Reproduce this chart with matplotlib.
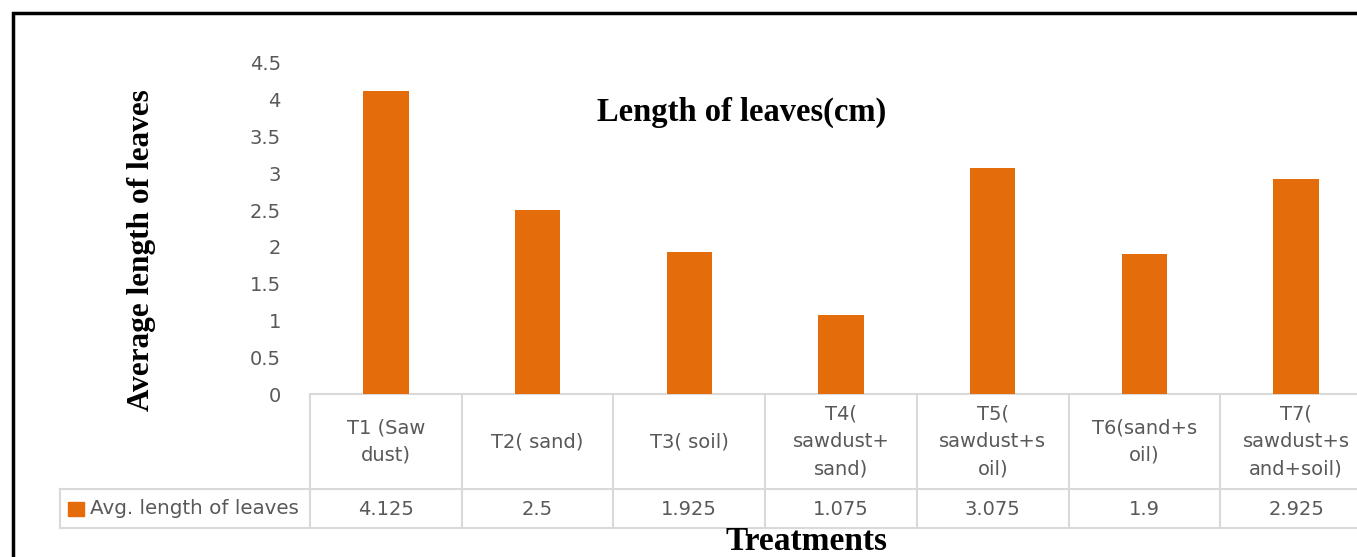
import matplotlib.pyplot as plt
from matplotlib.patches import Rectangle
from matplotlib.lines import Line2D

# data
treatments = ["T1 (Saw\ndust)", "T2( sand)", "T3( soil)", "T4(\nsawdust+\nsand)",
              "T5(\nsawdust+s\noil)", "T6(sand+s\noil)", "T7(\nsawdust+s\nand+soil)"]
avg_length = [4.125, 2.5, 1.925, 1.075, 3.075, 1.9, 2.925]
value_labels = ["4.125", "2.5", "1.925", "1.075", "3.075", "1.9", "2.925"]
series_name = "Avg. length of leaves"
yticks = [0, 0.5, 1, 1.5, 2, 2.5, 3, 3.5, 4, 4.5]

W, H = 1357, 557
bar_color = "#E46C0A"
text_gray = "#595959"
grid_gray = "#D9D9D9"

fig = plt.figure(figsize=(W / 100, H / 100), dpi=100)

# helper: pixel -> figure fraction
def fx(px):
    return px / W

def fy(py):
    return 1 - py / H

# plot area (extends past the right edge like the cropped original)
left, right, top, bottom = 310, 1372, 63, 394
ax = fig.add_axes([fx(left), fy(bottom), fx(right - left), (bottom - top) / H])
n = len(treatments)
ax.bar(range(n), avg_length, width=0.3, color=bar_color, zorder=3)
ax.set_xlim(-0.5, n - 0.5)
ax.set_ylim(0, 4.5)
ax.set_yticks(yticks)
ax.set_yticklabels([("%g" % t) for t in yticks])
ax.tick_params(axis="y", length=0, pad=21, labelsize=14, labelcolor=text_gray)
ax.set_xticks([])
for s in ax.spines.values():
    s.set_visible(False)

# data table below the axis
ax_w = right - left
ax_h = bottom - top
def ay(py):
    return (bottom - py) / ax_h

tr = ax.get_xaxis_transform()
row1, row2 = 489, 528
label_left = (60 - left) / ax_w
for y in [bottom, row1, row2]:
    x0 = -0.5 if y == bottom else -0.5 + label_left * n
    ax.add_line(Line2D([x0, n + 1], [ay(y), ay(y)], transform=tr, color=grid_gray,
                       lw=1.5, clip_on=False, zorder=2))
for i in range(n + 1):
    ax.add_line(Line2D([i - 0.5, i - 0.5], [ay(bottom), ay(row2)], transform=tr,
                       color=grid_gray, lw=1.5, clip_on=False))
ax.add_line(Line2D([-0.5 + label_left * n] * 2, [ay(row1), ay(row2)], transform=tr,
                   color=grid_gray, lw=1.5, clip_on=False))

for i, (lab, val) in enumerate(zip(treatments, value_labels)):
    ax.text(i, ay((bottom + row1) / 2), lab, transform=tr, ha="center", va="center",
            fontsize=14, color=text_gray, linespacing=1.55, clip_on=False)
    ax.text(i, ay((row1 + row2) / 2 + 1), val, transform=tr, ha="center", va="center",
            fontsize=14, color=text_gray, clip_on=False)

# legend key in the row header
fig.patches.append(Rectangle((fx(68), fy(516)), fx(16), 14 / H, transform=fig.transFigure,
                             color=bar_color))
fig.text(fx(90), fy(509), series_name, ha="left", va="center", fontsize=14.3,
         color=text_gray)

# titles
fig.text(fx(742), fy(112), "Length of leaves(cm)", ha="center", va="center",
         fontsize=23.5, fontweight="bold", family="Liberation Serif")
fig.text(fx(141), fy(250), "Average length of leaves", ha="center", va="center",
         rotation=90, fontsize=22.5, fontweight="bold", family="Liberation Serif")
fig.text(fx(807), fy(541), "Treatments", ha="center", va="center",
         fontsize=24, fontweight="bold", family="Liberation Serif")

# black outer frame (top and left visible)
fig.patches.append(Rectangle((fx(13), fy(H + 20)), fx(W + 40), (H + 20 - 13) / H,
                             transform=fig.transFigure, fill=False, ec="black", lw=2.5))

fig.savefig("out.png", dpi=100)
